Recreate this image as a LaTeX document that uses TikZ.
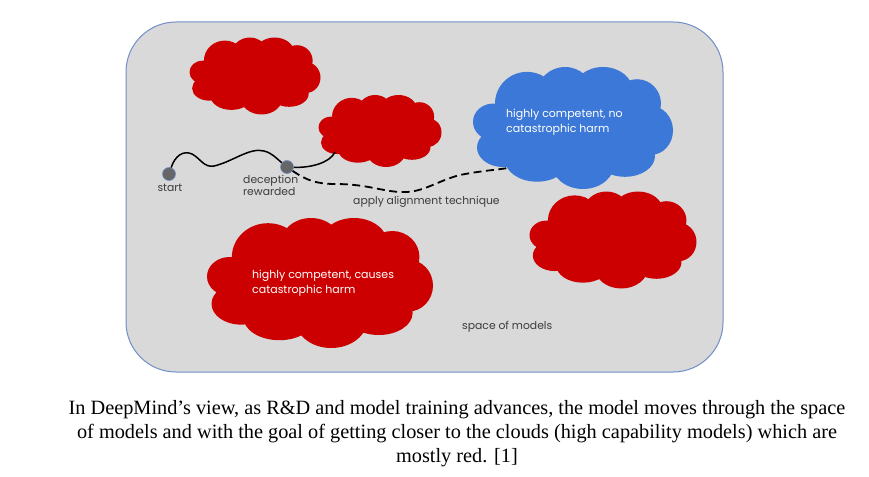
\documentclass[tikz,border=0pt]{standalone}
\usepackage{fontspec}
\setmainfont{Liberation Serif}
\newfontfamily\labelfont{Poppins}
\definecolor{boxgray}{RGB}{217,217,217}
\definecolor{boxedge}{RGB}{112,142,200}
\definecolor{cloudred}{RGB}{204,0,0}
\definecolor{cloudblue}{RGB}{60,120,216}
\definecolor{labelgray}{RGB}{60,60,60}
\definecolor{dotgray}{RGB}{102,102,102}
\newcommand\cloudblob[5]{%
  \begin{scope}[shift={(#1-#3/2,#2-#4/2)}, xscale=#3, yscale=#4]
    \fill[#5] (0.27,0.30) ellipse [x radius=0.16, y radius=0.26]
      (0.46,0.22) ellipse [x radius=0.14, y radius=0.22]
      (0.65,0.20) ellipse [x radius=0.15, y radius=0.20]
      (0.82,0.30) ellipse [x radius=0.12, y radius=0.20]
      (0.89,0.52) ellipse [x radius=0.11, y radius=0.20]
      (0.76,0.73) ellipse [x radius=0.15, y radius=0.17]
      (0.55,0.78) ellipse [x radius=0.16, y radius=0.22]
      (0.32,0.76) ellipse [x radius=0.16, y radius=0.18]
      (0.15,0.66) ellipse [x radius=0.13, y radius=0.16]
      (0.10,0.45) ellipse [x radius=0.10, y radius=0.15]
      (0.50,0.50) ellipse [x radius=0.35, y radius=0.30];
  \end{scope}}
\tikzset{
  cloudbox/.style={inner sep=0pt, outer sep=0pt},
  dot/.style={circle, fill=dotgray, draw=boxedge, line width=0.6pt, minimum size=13pt, inner sep=0pt},
  lbl/.style={font=\labelfont\fontsize{10.8}{12.5}\selectfont, text=labelgray, inner sep=0pt},
  cloudtxt/.style={font=\labelfont\fontsize{11}{15}\selectfont, text=white, align=left, inner sep=0pt, anchor=west},
  pathline/.style={line width=1.5pt, black},
  dashline/.style={line width=1.8pt, black, dash pattern=on 8pt off 4.5pt}
}
\begin{document}
\begin{tikzpicture}[x=1pt,y=-1pt]
\useasboundingbox (0,0) rectangle (869,476);
\draw[fill=boxgray, draw=boxedge, line width=1pt, rounded corners=50pt] (126,22) rectangle (723,372);
\node[cloudbox, minimum width=597pt, minimum height=350pt] (box) at (424.5,197) {};
% clouds
\cloudblob{255}{76}{131}{77}{cloudred}
\node[cloudbox, minimum width=131pt, minimum height=77pt] (c1) at (255,76) {};
\cloudblob{380}{131}{123}{72}{cloudred}
\node[cloudbox, minimum width=123pt, minimum height=72pt] (c2) at (380,131) {};
\cloudblob{573}{128}{200}{122}{cloudblue}
\node[cloudbox, minimum width=200pt, minimum height=122pt] (c3) at (573,128) {};
\cloudblob{613}{240}{167}{97}{cloudred}
\node[cloudbox, minimum width=167pt, minimum height=97pt] (c4) at (613,240) {};
\cloudblob{320}{283}{226}{130}{cloudred}
\node[cloudbox, minimum width=226pt, minimum height=130pt] (c5) at (320,283) {};
\node[cloudtxt] (t3) at (506,122) {highly competent, no\\catastrophic harm};
\node[cloudtxt] (t5) at (252,283) {highly competent, causes\\catastrophic harm};
% path
\coordinate (tip) at (335,152);
\coordinate (bluetip) at (508,168);
\node[dot] (start) at (169,174) {};
\node[dot] (decep) at (287,167) {};
\draw[pathline] (start) .. controls (175,156) and (183,150) .. (192,154)
  .. controls (200,158) and (204,168) .. (214,166)
  .. controls (232,162) and (250,147) .. (264,151)
  .. controls (272,153) and (276,158) .. (decep);
\draw[pathline] (decep) .. controls (310,168) and (330,163) .. (tip);
\draw[dashline] (decep) .. controls (306,180) and (316,184) .. (335,184)
  .. controls (370,184) and (385,193) .. (407,192)
  .. controls (425,191) and (440,180) .. (460,175)
  .. controls (480,171) and (495,170) .. (bluetip);
% labels
\node[lbl] (ls) at (170,188) {start};
\node[lbl, align=left, anchor=north west, font=\labelfont\fontsize{10.8}{12}\selectfont] (ld) at (243,175) {deception\\rewarded};
\node[lbl, anchor=west] (la) at (353,202) {apply alignment technique};
\node[lbl, anchor=west] (lm) at (462,327) {space of models};
% caption
\node[align=center, font=\fontsize{20.3}{24}\selectfont, inner sep=0pt] (cap) at (457,434) {In DeepMind’s view, as R\&D and model training advances, the model moves through the space\\of models and with the goal of getting closer to the clouds (high capability models) which are\\mostly red. [1]};
\end{tikzpicture}
\end{document}
